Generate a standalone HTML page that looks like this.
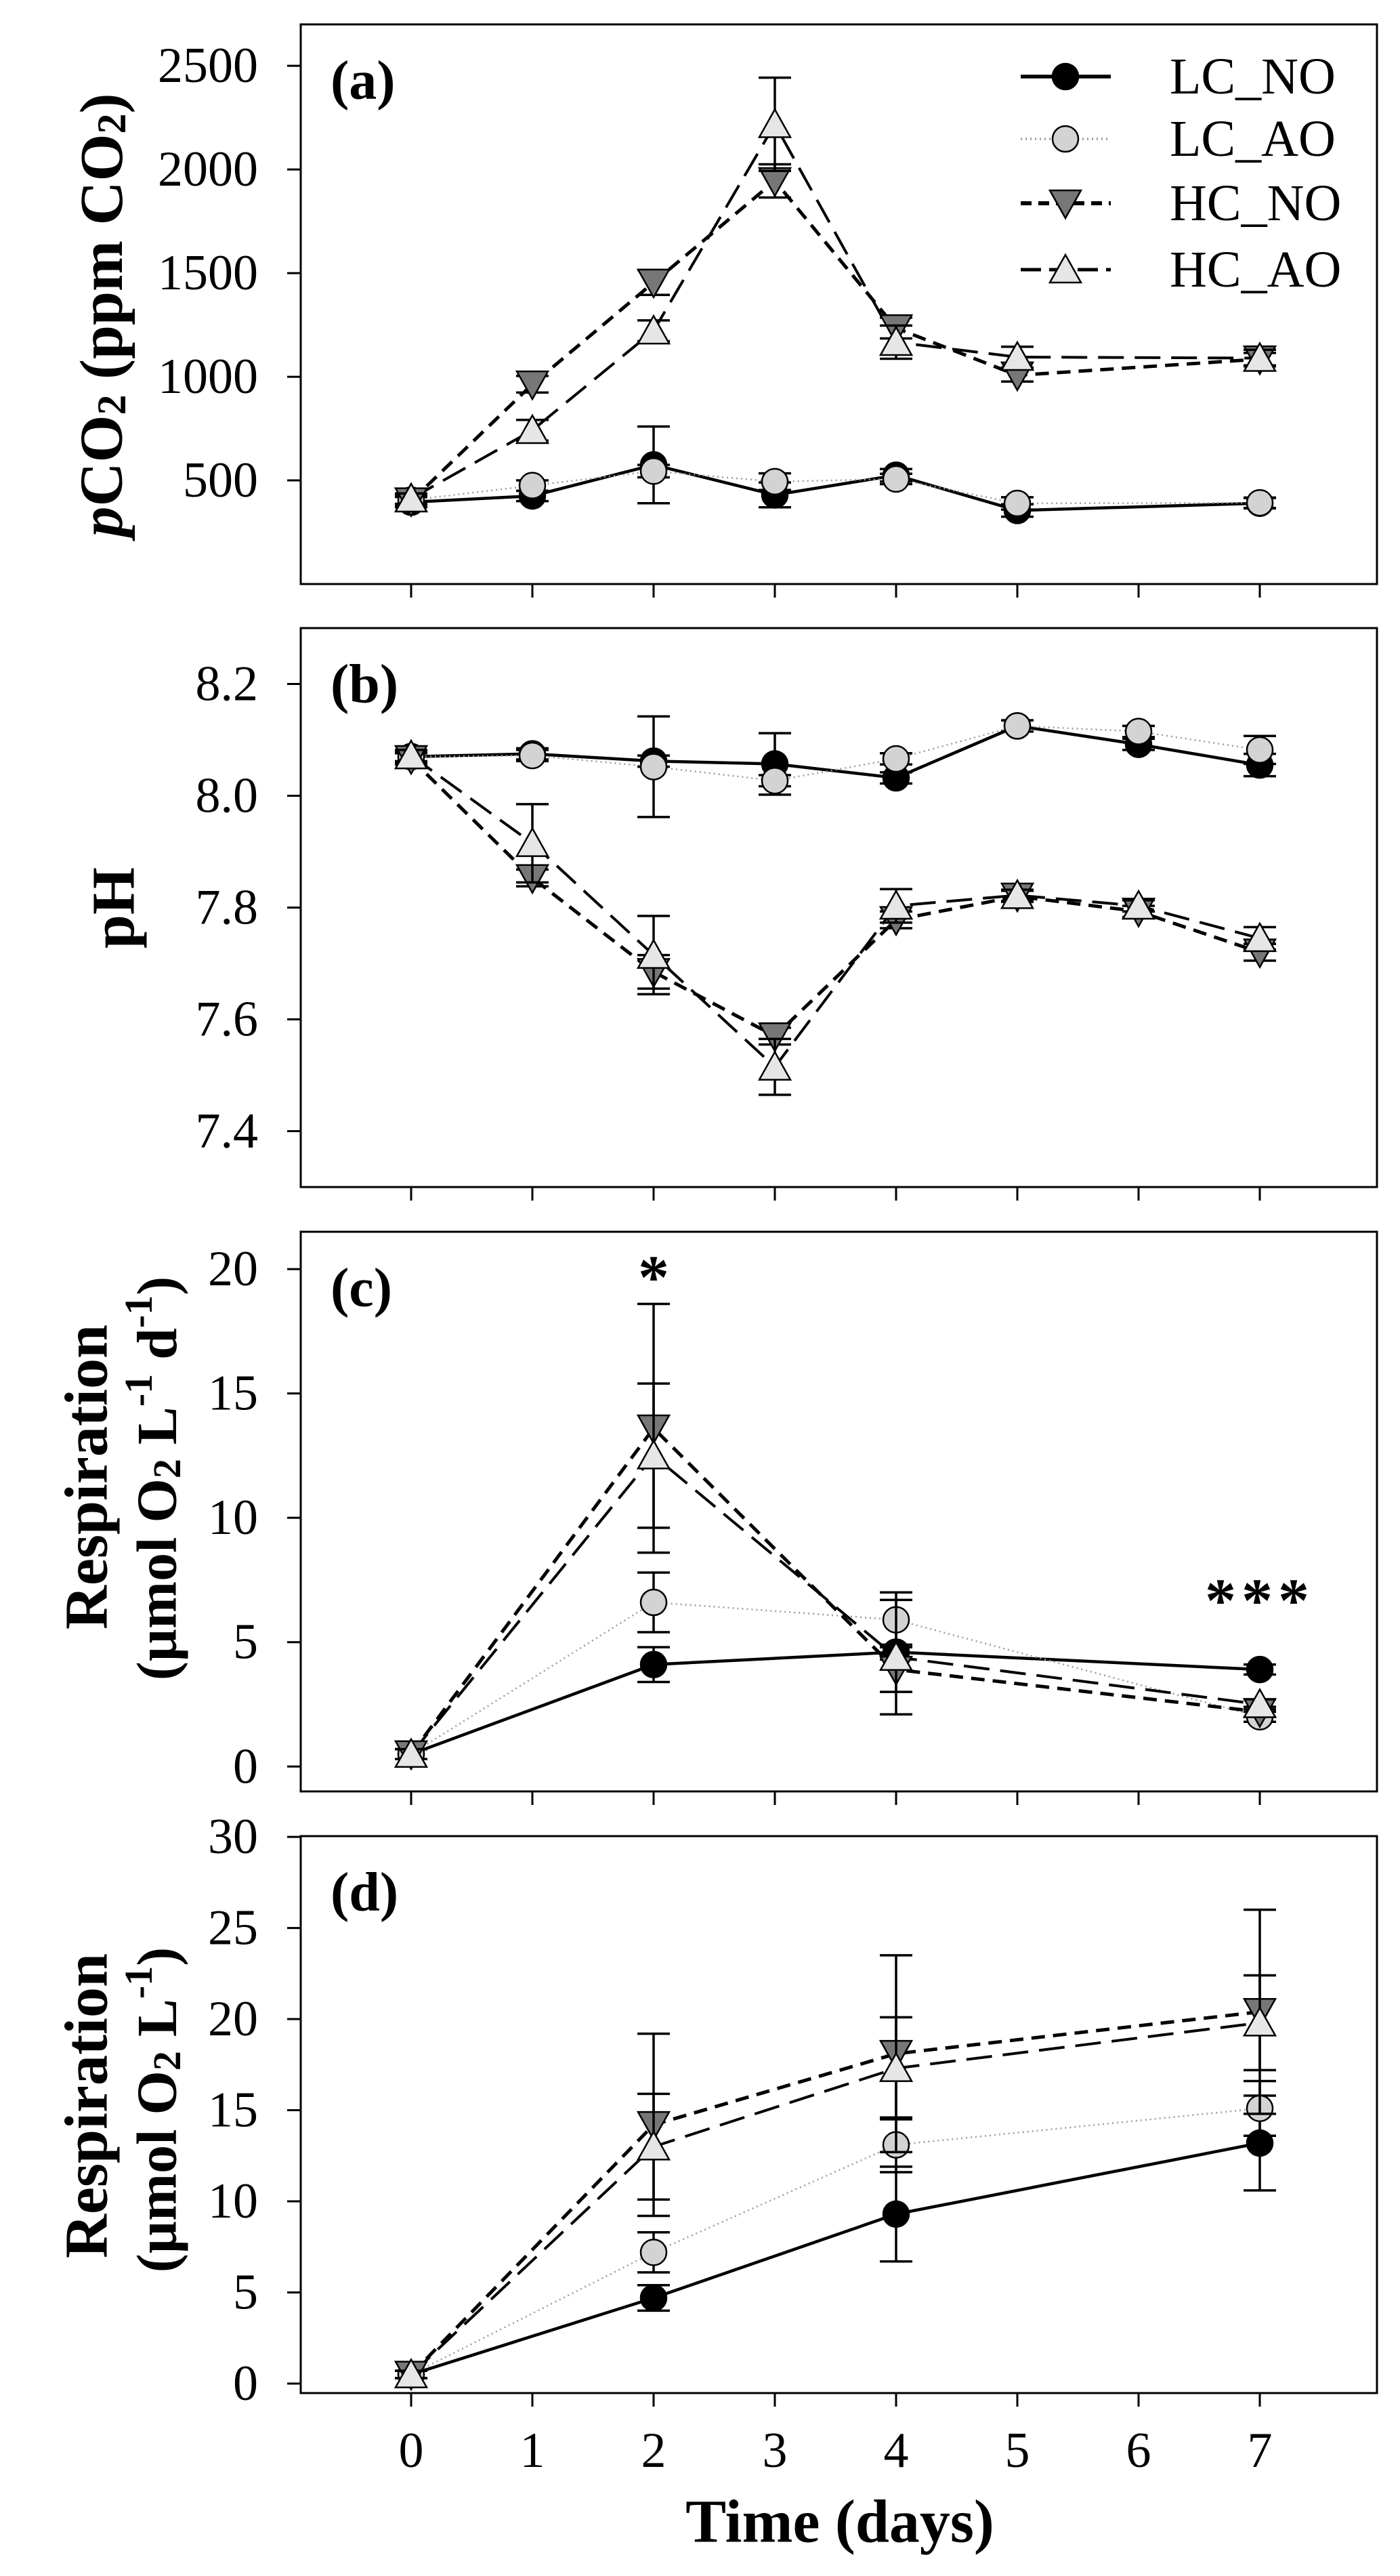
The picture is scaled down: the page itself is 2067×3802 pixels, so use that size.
<!DOCTYPE html>
<html><head><meta charset="utf-8">
<style>
html,body{margin:0;padding:0;background:#fff;}
svg{display:block;}
text{font-family:"Liberation Serif","DejaVu Serif",serif;}
</style></head>
<body>
<svg id="fig" width="2067" height="3802" viewBox="0 0 2067 3802" xmlns="http://www.w3.org/2000/svg" font-family="Liberation Serif, serif"></svg>
<script>
// ---- data ----
const days = [0,1,2,3,4,5,6,7];
const seriesNames = ["LC_NO","LC_AO","HC_NO","HC_AO"];
// panel a: pCO2
const aDays = [0,1,2,3,4,5,7];
const aLCNO = [395,425,575,430,525,355,390];
const aLCAO = [405,475,545,494,507,389,392];
const aHCNO = [400,964,1455,1945,1235,1007,1085];
const aHCAO = [412,742,1222,2218,1167,1095,1090];
const aLCNOerr = [25,25,185,60,30,30,25];
const aLCAOerr = [25,25,30,40,25,30,25];
const aHCNOerr = [25,40,60,80,50,30,30];
const aHCAOerr = [25,50,50,225,80,50,40];
const aTicks = [500,1000,1500,2000,2500];
// panel b: pH
const bDays = [0,1,2,3,4,5,6,7];
const bLCNO = [8.07,8.075,8.062,8.057,8.032,8.125,8.092,8.055];
const bLCAO = [8.07,8.072,8.052,8.027,8.066,8.125,8.115,8.082];
const bHCNO = [8.066,7.853,7.685,7.57,7.778,7.82,7.793,7.72];
const bHCAO = [8.072,7.915,7.715,7.515,7.803,7.822,7.803,7.745];
const bLCNOerr = [0.01,0.01,0.01,0.055,0.01,0.01,0.01,0.02];
const bLCAOerr = [0.01,0.01,0.09,0.01,0.01,0.01,0.01,0.025];
const bHCNOerr = [0.01,0.015,0.03,0.015,0.015,0.01,0.01,0.015];
const bHCAOerr = [0.01,0.07,0.07,0.05,0.03,0.01,0.01,0.02];
const bTicks = [7.4,7.6,7.8,8.0,8.2];
// panel c: respiration rate
const cDays = [0,2,4,7];
const cLCNO = [0.5,4.1,4.6,3.9];
const cLCAO = [0.5,6.6,5.9,2.0];
const cHCNO = [0.5,13.6,3.9,2.2];
const cHCAO = [0.5,12.5,4.4,2.5];
const cLCNOerr = [0.2,0.7,0.3,0.2];
const cLCAOerr = [0.2,1.2,1.1,0.2];
const cHCNOerr = [0.2,5.0,0.9,0.2];
const cHCAOerr = [0.2,2.9,2.3,0.2];
const cTicks = [0,5,10,15,20];
// panel d: cumulative respiration
const dDays = [0,2,4,7];
const dLCNO = [0.5,4.7,9.3,13.2];
const dLCAO = [0.5,7.2,13.1,15.1];
const dHCNO = [0.5,14.2,18.1,20.4];
const dHCAO = [0.5,13.0,17.3,19.8];
const dLCNOerr = [0.2,0.7,2.6,2.6];
const dLCAOerr = [0.2,1.1,1.5,1.5];
const dHCNOerr = [0.2,5.0,5.4,5.6];
const dHCAOerr = [0.2,2.9,2.8,2.6];
const dTicks = [0,5,10,15,20,25,30];

const NS="http://www.w3.org/2000/svg";
const svg=document.getElementById('fig');
const FONT='"Liberation Serif", serif';
function el(tag,attrs,parent){const e=document.createElementNS(NS,tag);for(const k in attrs)e.setAttribute(k,attrs[k]);if(tag==='text')e.setAttribute('font-family',FONT);(parent||svg).appendChild(e);return e;}

const X0=607, DX=179, LEFT=444, RIGHT=2033;
const xs=d=>X0+d*DX;

const styles={
 LC_NO:{stroke:"#000",w:4.5,dash:"",fill:"#000",shape:"circle"},
 LC_AO:{stroke:"#9a9a9a",w:2.5,dash:"2 5",fill:"#d3d3d3",shape:"circle"},
 HC_NO:{stroke:"#000",w:5,dash:"20 12",fill:"#777",shape:"down"},
 HC_AO:{stroke:"#000",w:4,dash:"38 16",fill:"#e6e6e6",shape:"up"}
};

function marker(g,shape,x,y,fill){
  let m;
  if(shape==="circle") m=el('circle',{cx:x,cy:y,r:19,fill:fill,stroke:"#000","stroke-width":2.5},g);
  else if(shape==="down") m=el('polygon',{points:`${x-23},${y-19} ${x+23},${y-19} ${x},${y+22}`,fill:fill,stroke:"#000","stroke-width":2.5},g);
  else m=el('polygon',{points:`${x-23},${y+19} ${x+23},${y+19} ${x},${y-22}`,fill:fill,stroke:"#000","stroke-width":2.5},g);
  return m;
}

function panel(opt){
  const {id,top,bottom,ymin,ymax,ticks,tickFmt,dx,series,errs,letter}=opt;
  const ys=v=>bottom-(v-ymin)/(ymax-ymin)*(bottom-top);
  const g=el('g',{});
  
  
  const frame=el('rect',{x:LEFT,y:top,width:RIGHT-LEFT,height:bottom-top,fill:"none",stroke:"#000","stroke-width":3},g);
  
  
  days.forEach(d=>{
    const t=el('line',{x1:xs(d),x2:xs(d),y1:bottom,y2:bottom+20,stroke:"#000","stroke-width":3},g);
    
    
  });
  ticks.forEach(v=>{
    const t=el('line',{x1:LEFT-20,x2:LEFT,y1:ys(v),y2:ys(v),stroke:"#000","stroke-width":3},g);
    
    
    const tl=el('text',{x:381,y:ys(v),"text-anchor":"end","dominant-baseline":"central","font-size":74},g);
    tl.textContent=tickFmt(v);
    
    
  });
  seriesNames.forEach((s,i)=>{
    const st=styles[s];
    const pts=dx.map((d,j)=>xs(d)+","+ys(series[i][j])).join(" ");
    const pl=el('polyline',{points:pts,fill:"none",stroke:st.stroke,"stroke-width":st.w,"stroke-dasharray":st.dash},g);
    
    
  });
  seriesNames.forEach((s,i)=>{
    const st=styles[s];
    dx.forEach((d,j)=>{
      const v=series[i][j], e=errs[i][j], x=xs(d);
      const eb=el('path',{d:`M${x},${ys(v+e)}V${ys(v-e)}M${x-24},${ys(v+e)}H${x+24}M${x-24},${ys(v-e)}H${x+24}`,stroke:"#000","stroke-width":3.5,fill:"none"},g);
      
      
    });
    dx.forEach((d,j)=>{
      const m=marker(g,st.shape,xs(d),ys(series[i][j]),st.fill);
      
      
    });
  });
  const lt=el('text',{x:488,y:top+82,"dominant-baseline":"central","font-size":82,"font-weight":"bold"},g);
  lt.textContent=letter;
  
  
  return {g,ys};
}

panel({id:'a',top:36,bottom:862,ymin:0,ymax:2700,ticks:aTicks,tickFmt:v=>String(v),dx:aDays,
 series:[aLCNO,aLCAO,aHCNO,aHCAO],errs:[aLCNOerr,aLCAOerr,aHCNOerr,aHCAOerr],letter:'(a)'});
panel({id:'b',top:927,bottom:1752,ymin:7.3,ymax:8.3,ticks:bTicks,tickFmt:v=>v.toFixed(1),dx:bDays,
 series:[bLCNO,bLCAO,bHCNO,bHCAO],errs:[bLCNOerr,bLCAOerr,bHCNOerr,bHCAOerr],letter:'(b)'});
panel({id:'c',top:1818,bottom:2644,ymin:-1.0,ymax:21.5,ticks:cTicks,tickFmt:v=>String(v),dx:cDays,
 series:[cLCNO,cLCAO,cHCNO,cHCAO],errs:[cLCNOerr,cLCAOerr,cHCNOerr,cHCAOerr],letter:'(c)'});
panel({id:'d',top:2710,bottom:3532,ymin:-0.52,ymax:30.04,ticks:dTicks,tickFmt:v=>String(v),dx:dDays,
 series:[dLCNO,dLCAO,dHCNO,dHCAO],errs:[dLCNOerr,dLCAOerr,dHCNOerr,dHCAOerr],letter:'(d)'});

// legend
const legY=[113,205,300,398];
const lg=el('g',{});


seriesNames.forEach((s,i)=>{
  const st=styles[s];
  const row=el('g',{},lg);
  
  
  el('line',{x1:1507,x2:1640,y1:legY[i],y2:legY[i],stroke:st.stroke,"stroke-width":st.w+1,"stroke-dasharray":s==="HC_AO"?"30 12":(s==="HC_NO"?"16 10":st.dash)},row);
  marker(row,st.shape,1573,legY[i],st.fill);
  const t=el('text',{x:1727,y:legY[i],"dominant-baseline":"central","font-size":76},row);
  t.textContent=s;
});

days.forEach(d=>{
  const t=el('text',{x:xs(d),y:3617,"text-anchor":"middle","dominant-baseline":"central","font-size":74});
  t.textContent=String(d);
  
  
});
const xt=el('text',{x:1240,y:3722,"text-anchor":"middle","dominant-baseline":"central","font-size":90,"font-weight":"bold"});
xt.textContent="Time (days)";



const as1=el('text',{x:xs(2),y:1885,"text-anchor":"middle","dominant-baseline":"central","font-size":92,"font-weight":"bold"});
as1.textContent="*";


const as2=el('text',{x:xs(7),y:2362,"text-anchor":"middle","dominant-baseline":"central","font-size":92,"font-weight":"bold","letter-spacing":"8"});
as2.textContent="***";



function ytitle(name,cx,cy,html,size){
  const t=el('text',{x:0,y:0,transform:`translate(${cx},${cy}) rotate(-90)`,"text-anchor":"middle","dominant-baseline":"central","font-size":size,"font-weight":"bold"});
  t.innerHTML=html;
  
  
}
ytitle('y-axis-title-pco2',150,465,'<tspan font-style="italic">p</tspan>CO<tspan font-size="60" dy="15">2</tspan><tspan dy="-15"> (ppm CO</tspan><tspan font-size="60" dy="15">2</tspan><tspan dy="-15">)</tspan>',90);
ytitle('y-axis-title-ph',168,1340,'pH',90);
ytitle('y-axis-title-respiration-rate-line1',128,2180,'Respiration',90);
ytitle('y-axis-title-respiration-rate-line2',232,2182,'(µmol O<tspan font-size="58" dy="14">2</tspan><tspan dy="-14"> L</tspan><tspan font-size="58" dy="-28">-1</tspan><tspan dy="28"> d</tspan><tspan font-size="58" dy="-28">-1</tspan><tspan dy="28">)</tspan>',84);
ytitle('y-axis-title-respiration-cum-line1',128,3108,'Respiration',90);
ytitle('y-axis-title-respiration-cum-line2',232,3114,'(µmol O<tspan font-size="58" dy="14">2</tspan><tspan dy="-14"> L</tspan><tspan font-size="58" dy="-28">-1</tspan><tspan dy="28">)</tspan>',84);
</script>
</body></html>
